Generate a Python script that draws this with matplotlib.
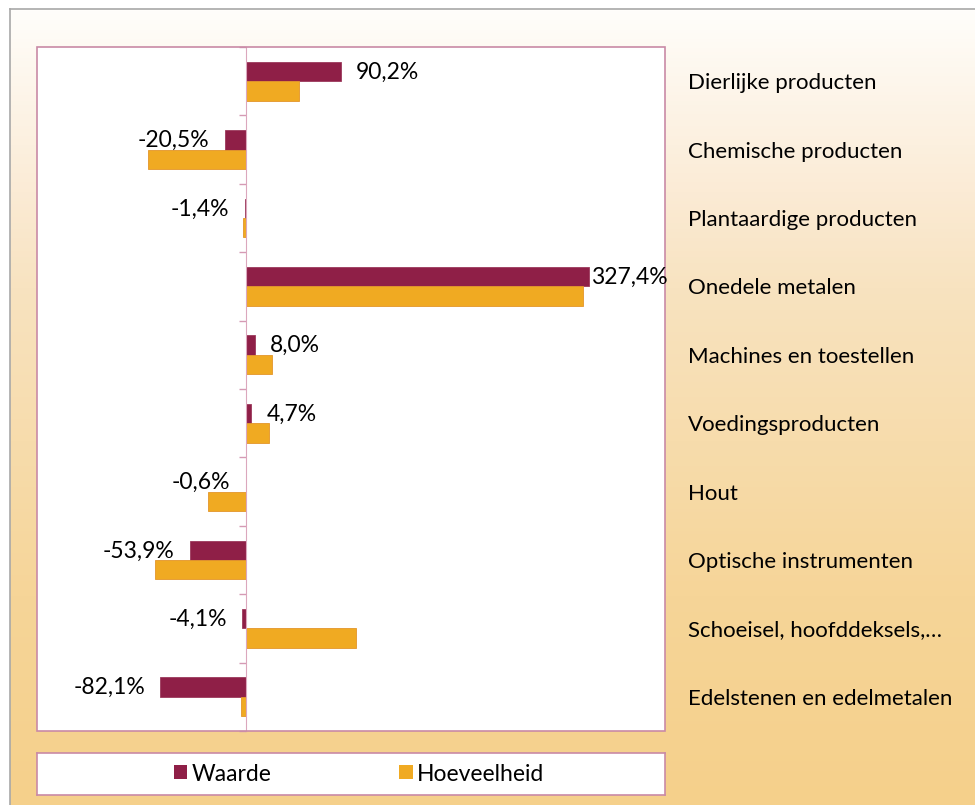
import numpy as np
import matplotlib.pyplot as plt
from matplotlib.patches import Rectangle, Patch
from matplotlib.colors import LinearSegmentedColormap
import matplotlib.transforms as mtransforms

plt.rcParams['font.family'] = ['Lato', 'DejaVu Sans']

categories = ['Dierlijke producten', 'Chemische producten', 'Plantaardige producten',
              'Onedele metalen', 'Machines en toestellen', 'Voedingsproducten', 'Hout',
              'Optische instrumenten', 'Schoeisel, hoofddeksels,\u2026',
              'Edelstenen en edelmetalen']
waarde = [90.2, -20.5, -1.4, 327.4, 8.0, 4.7, -0.6, -53.9, -4.1, -82.1]
hoeveelheid = [50.6, -93.6, -3.5, 322.0, 24.8, 22.0, -37.0, -87.0, 105.0, -5.5]

c_waarde = '#8f1f47'
c_hoev = '#f0aa22'
c_border = '#c98aa6'
fs_cat = 16
fs_lab = 16.5

fig = plt.figure(figsize=(9.75, 8.05), dpi=100, facecolor='white')

# background with gradient
bg = fig.add_axes([10/975, 0, 1 - 10/975, 1 - 9/805], zorder=-10)
cmap = LinearSegmentedColormap.from_list(
    'bg', [(0, '#fffefb'), (0.23, '#fbebd5'), (0.35, '#f8e3c0'),
           (0.74, '#f6d598'), (1, '#f5d08b')])
grad = np.linspace(0, 1, 256).reshape(-1, 1)
bg.imshow(grad, aspect='auto', cmap=cmap, extent=[0, 1, 0, 1], origin='upper')
bg.set_xticks([]); bg.set_yticks([])
for s in ['right', 'bottom']:
    bg.spines[s].set_visible(False)
for s in ['left', 'top']:
    bg.spines[s].set_color('#a8a8a8')
    bg.spines[s].set_linewidth(1.2)

ax = fig.add_axes([37/975, 1 - 731/805, 628/975, 684/805])
ax.set_facecolor('white')
y = np.arange(len(categories))
h = 0.285
ax.barh(y - h/2, waarde, height=h, color=c_waarde, edgecolor='#9c3a5c', linewidth=0.6, zorder=3)
ax.barh(y + h/2, hoeveelheid, height=h, color=c_hoev, edgecolor='#e3952a', linewidth=0.6, zorder=3)
ax.set_xlim(-200, 400)
ax.set_ylim(len(categories) - 0.5, -0.5)

for s in ['top', 'right', 'bottom']:
    ax.spines[s].set_visible(False)
ax.spines['left'].set_position(('data', 0))
ax.spines['left'].set_color('#dba7bd')
ax.spines['left'].set_zorder(4)
ax.add_patch(Rectangle((0, 0), 1, 1, transform=ax.transAxes, fill=False,
                       edgecolor=c_border, linewidth=1.2, clip_on=False, zorder=5))
ax.set_xticks([])
ax.set_yticks(np.arange(len(categories) + 1) - 0.5)
ax.set_yticklabels([])
ax.tick_params(axis='y', direction='out', length=5, color='#d59ab4', width=1)

# data labels for Waarde
for yi, v in zip(y, waarde):
    txt = f'{v:.1f}'.replace('.', ',') + '%'
    if v >= 0:
        off = 1.5 if v > 300 else 11
        ax.annotate(txt, (v, yi - h/2), xytext=(off, -0.5), textcoords='offset points',
                    ha='left', va='center', fontsize=fs_lab, color='black', zorder=6)
    else:
        ax.annotate(txt, (v, yi - h/2), xytext=(-11, -0.5), textcoords='offset points',
                    ha='right', va='center', fontsize=fs_lab, color='black', zorder=6)

# category labels on the right
trans = mtransforms.blended_transform_factory(ax.transAxes, ax.transData)
trans = trans + mtransforms.ScaledTranslation(0, -2/100, fig.dpi_scale_trans)
for yi, cat in zip(y, categories):
    ax.text((688 - 37) / 628, yi, cat, transform=trans, ha='left', va='center',
            fontsize=fs_cat, color='black', clip_on=False)

# legend box
lax = fig.add_axes([37/975, 1 - 795/805, 628/975, 42/805])
lax.set_xticks([]); lax.set_yticks([])
lax.set_facecolor('white')
for s in lax.spines.values():
    s.set_color(c_border)
    s.set_linewidth(1.2)
handles = [Patch(facecolor=c_waarde, label='Waarde'),
           Patch(facecolor=c_hoev, label='Hoeveelheid')]
lax.legend(handles=handles, loc='center', bbox_to_anchor=(0.5 + 8/628, 0.5), ncol=2,
           frameon=False, fontsize=fs_lab, handlelength=0.57, handleheight=0.57,
           handletextpad=0.2, columnspacing=5.6)

fig.savefig('out.png', dpi=100, facecolor='white')
